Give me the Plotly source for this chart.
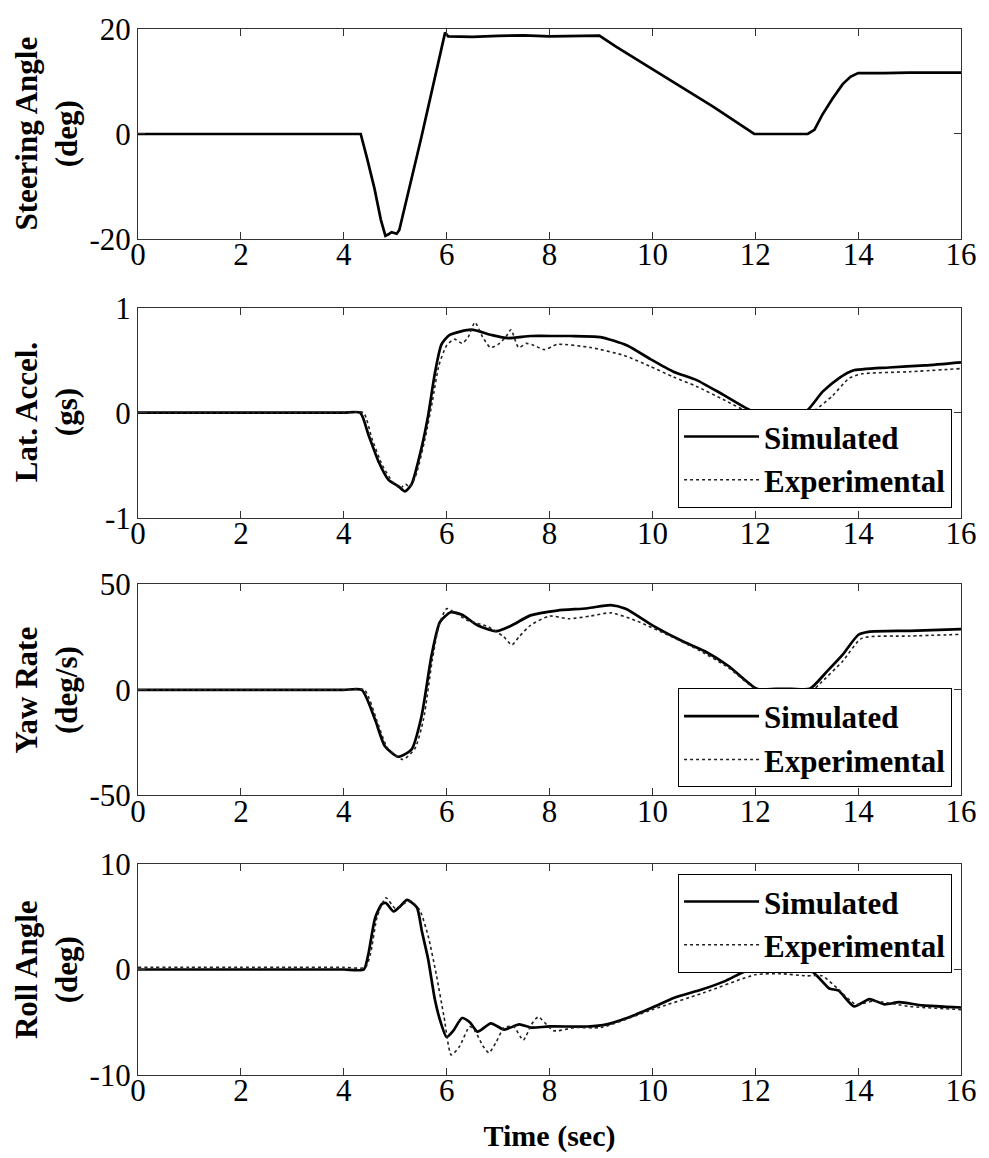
import plotly.graph_objects as go

# ---- time histories ----
steer_t = [0, 4.33, 4.45, 4.6, 4.72, 4.81, 4.87, 4.93, 5.03, 5.08, 5.5, 5.97, 6.03, 6.5, 7.0, 7.5,
           8.0, 8.5, 8.97, 9.3, 10.0, 10.6, 11.18, 11.98, 13.02, 13.15, 13.3, 13.5, 13.7, 13.85,
           14.0, 14.5, 15.0, 16.0]
steer_sim = [0, 0, -4.5, -10.5, -16.3, -19.4, -19.1, -18.7, -19.0, -18.3, -1.0, 19.3, 18.6, 18.5,
             18.7, 18.8, 18.6, 18.7, 18.75, 16.6, 12.4, 8.8, 5.2, 0, 0, 0.8, 3.6, 6.7, 9.5, 10.9,
             11.6, 11.6, 11.7, 11.7]

lat_t_sim = [0, 1, 2, 3, 4, 4.32, 4.48, 4.68, 4.87, 5.06, 5.19, 5.32, 5.51, 5.64, 5.77, 5.90,
             6.06, 6.48, 6.87, 7.19, 7.64, 8.15, 8.41, 8.99, 9.51, 9.96, 10.41, 10.86, 11.38,
             11.95, 12.3, 12.7, 12.99, 13.31, 13.63, 13.89, 14.6, 15.3, 16.0]
lat_sim = [0, 0, 0, 0, 0, 0, -0.21, -0.47, -0.64, -0.70, -0.75, -0.68, -0.34, -0.03, 0.37, 0.65,
           0.74, 0.79, 0.74, 0.71, 0.73, 0.73, 0.73, 0.72, 0.64, 0.51, 0.39, 0.31, 0.17,
           0.015, 0.015, 0.015, 0.015, 0.20, 0.33, 0.40, 0.43, 0.45, 0.48]
lat_t_exp = [0, 1, 2, 3, 4, 4.38, 4.55, 4.75, 4.95, 5.1, 5.2, 5.28, 5.4, 5.58, 5.72, 5.85, 6.0,
             6.15, 6.3, 6.42, 6.55, 6.7, 6.85, 7.0, 7.15, 7.25, 7.4, 7.55, 7.7, 7.9, 8.15, 8.8,
             9.45, 9.96, 10.41, 10.86, 11.38, 11.95, 12.3, 12.7, 13.05, 13.18, 13.5, 13.83,
             14.08, 15.0, 16.0]
lat_exp = [0, 0, 0, 0, 0, 0, -0.25, -0.50, -0.66, -0.72, -0.68, -0.71, -0.60, -0.25, 0.10, 0.45,
           0.64, 0.70, 0.66, 0.72, 0.86, 0.72, 0.62, 0.65, 0.72, 0.79, 0.62, 0.66, 0.64, 0.60,
           0.65, 0.62, 0.545, 0.44, 0.34, 0.25, 0.125, -0.01, -0.01, -0.01, -0.01, 0.03, 0.16,
           0.33, 0.37, 0.39, 0.42]

yaw_t_sim = [0, 1, 2, 3, 4, 4.35, 4.61, 4.8, 5.06, 5.32, 5.51, 5.71, 5.87, 6.08, 6.30, 6.6,
             6.97, 7.27, 7.63, 8.15, 8.74, 9.19, 9.48, 10.0, 10.6, 11.03, 11.48, 12.03, 12.4,
             12.7, 13.06, 13.4, 13.7, 14.0, 14.2, 15.0, 16.0]
yaw_sim = [0, 0, 0, 0, 0, 0, -14.2, -26.7, -31.7, -28.2, -12.8, 16.7, 32.2, 36.8, 35.6, 30.6,
           27.8, 30.6, 35.3, 37.6, 38.7, 40.2, 38.4, 30.6, 22.9, 18.2, 11.3, 0.5, 0.5, 0.5, 0.5,
           8.9, 16.7, 26.0, 27.5, 28.0, 28.8]
yaw_t_exp = [0, 1, 2, 3, 4, 4.4, 4.65, 4.85, 5.15, 5.38, 5.55, 5.72, 5.85, 6.0, 6.2, 6.4, 6.8,
             7.11, 7.27, 7.41, 7.63, 8.0, 8.37, 8.8, 9.19, 9.7, 10.3, 10.89, 11.48, 12.06, 12.4,
             12.75, 13.1, 13.26, 13.7, 14.07, 15.0, 16.0]
yaw_exp = [0, 0, 0, 0, 0, 0, -15.0, -27.5, -33.0, -28.0, -14.0, 14.0, 30.5, 38.5, 36.0, 33.0,
           30.0, 25.2, 21.3, 25.2, 30.6, 35.0, 33.7, 35.0, 36.5, 32.6, 26.0, 19.0, 10.5, -0.4,
           -0.4, -0.4, -0.4, 3.0, 13.6, 24.4, 25.5, 26.3]

roll_t_sim = [0, 1, 2, 3, 4, 4.39, 4.48, 4.61, 4.74, 4.82, 4.97, 5.1, 5.23, 5.42, 5.52, 5.64,
              5.77, 5.86, 6.0, 6.13, 6.3, 6.45, 6.6, 6.86, 7.12, 7.41, 7.64, 8.0, 8.74, 9.11,
              9.56, 10.0, 10.44, 10.96, 11.41, 11.7, 12.03, 12.27, 12.59, 13.03, 13.25, 13.44,
              13.62, 13.92, 14.22, 14.51, 14.8, 15.25, 16.0]
roll_sim = [0, 0, 0, 0, 0, 0, 1.5, 4.9, 6.2, 6.3, 5.5, 6.0, 6.6, 5.9, 3.6, 1.0, -2.8, -4.6,
            -6.4, -5.8, -4.6, -5.0, -5.9, -5.1, -5.7, -5.2, -5.5, -5.4, -5.4, -5.2, -4.5, -3.6,
            -2.65, -1.9, -1.1, -0.4, 0.23, 0.0, 0.1, 0.1, -0.85, -1.8, -2.0, -3.5, -2.8, -3.3,
            -3.1, -3.4, -3.6]
roll_t_exp = [0, 1, 2, 3, 4, 4.42, 4.52, 4.65, 4.82, 5.0, 5.15, 5.3, 5.48, 5.64, 5.8, 5.95,
              6.09, 6.25, 6.45, 6.56, 6.7, 6.82, 6.95, 7.12, 7.3, 7.49, 7.65, 7.78, 8.08, 8.5,
              9.0, 10.0, 11.0, 12.0, 12.5, 13.0, 13.3, 13.6, 13.95, 14.3, 15.0, 16.0]
roll_exp = [0.2, 0.2, 0.2, 0.2, 0.2, 0.2, 1.5, 5.0, 6.8, 5.8, 6.2, 6.5, 5.6, 3.2, -0.5, -4.5,
            -8.1, -7.3, -5.4, -5.9, -7.2, -7.9, -7.0, -5.5, -5.4, -6.7, -5.2, -4.5, -5.8, -5.5,
            -5.5, -3.8, -2.2, -0.5, -0.4, -0.6, -0.6, -1.8, -3.3, -3.0, -3.5, -3.8]

# ---- axis labels / ticks ----
x_ticks = list(range(0, 17, 2))
panel_titles = ["Steering Angle<br>(deg)", "Lat. Accel.<br>(gs)",
                "Yaw Rate<br>(deg/s)", "Roll Angle<br>(deg)"]
y_tickvals = [[-20, 0, 20], [-1, 0, 1], [-50, 0, 50], [-10, 0, 10]]
y_ticktext = [["-20", "0", "20"], ["-1", "0", "1"], ["-50", "0", "50"], ["-10", "0", "10"]]
x_title = "Time (sec)"
names = ["Simulated", "Experimental"]

W, H = 989, 1158
ML, MR, MT, MB = 138, 23, 19, 73
PH = H - MT - MB
PW = W - ML - MR


def fy(px):
    return (H - MB - px) / PH


def fx(px):
    return (px - ML) / PW


panel_px = [(19, 233), (303, 517), (585, 800), (870, 1085)]
serif = "Times New Roman, Liberation Serif, Tinos, serif"

fig = go.Figure()

sim_style = dict(color="black", width=2.7)
sim_smooth = dict(sim_style, shape="spline", smoothing=0.6)
exp_style = dict(color="#222222", width=1.6, dash="dot", shape="spline", smoothing=0.6)

fig.add_trace(go.Scatter(x=steer_t, y=steer_sim, mode="lines", line=sim_style,
                         showlegend=False, xaxis="x", yaxis="y"))

series = [
    (lat_t_sim, lat_sim, lat_t_exp, lat_exp),
    (yaw_t_sim, yaw_sim, yaw_t_exp, yaw_exp),
    (roll_t_sim, roll_sim, roll_t_exp, roll_exp),
]
legend_ids = ["legend", "legend2", "legend3"]
for i, (ts, vs, te, ve) in enumerate(series):
    k = i + 2
    fig.add_trace(go.Scatter(x=ts, y=vs, mode="lines", line=sim_smooth, name=names[0],
                             xaxis=f"x{k}", yaxis=f"y{k}", legend=legend_ids[i]))
    fig.add_trace(go.Scatter(x=te, y=ve, mode="lines", line=exp_style, name=names[1],
                             xaxis=f"x{k}", yaxis=f"y{k}", legend=legend_ids[i]))

axis_common = dict(showgrid=False, zeroline=False, showline=True, linecolor="#333333",
                   linewidth=1, mirror="allticks", ticks="inside", ticklen=7,
                   tickcolor="#333333", tickwidth=1,
                   tickfont=dict(family=serif, size=31, color="black"))

layout = dict(width=W, height=H, margin=dict(l=ML, r=MR, t=MT, b=MB),
              plot_bgcolor="white", paper_bgcolor="white", showlegend=True)
annotations = []
for i in range(4):
    k = "" if i == 0 else str(i + 1)
    top, bot = panel_px[i]
    dom = [fy(bot), fy(top)]
    yr = [y_tickvals[i][0], y_tickvals[i][-1]]
    layout[f"xaxis{k}"] = dict(axis_common, domain=[0, 1], range=[0, 16], tickvals=x_ticks,
                                anchor=f"y{k}", ticklabelstandoff=-12)
    layout[f"yaxis{k}"] = dict(axis_common, domain=dom, range=yr, tickvals=y_tickvals[i],
                                ticktext=y_ticktext[i], anchor=f"x{k}", ticklabelstandoff=0)
    annotations.append(dict(text=panel_titles[i], xref="paper", yref="paper",
                            x=fx(46), y=(dom[0] + dom[1]) / 2, textangle=-90,
                            showarrow=False, xanchor="center", yanchor="middle",
                            font=dict(family=serif, size=31, color="black", weight="bold")))

layout["xaxis4"]["title"] = dict(text=x_title, standoff=17,
                                 font=dict(family=serif, size=30, color="black", weight="bold"))

legend_common = dict(bgcolor="white", bordercolor="black", borderwidth=1, xanchor="right",
                     x=fx(957), font=dict(family=serif, size=31, color="black", weight="bold"),
                     tracegroupgap=0, itemwidth=75)
layout["legend"] = dict(legend_common, y=fy(507), yanchor="bottom")
layout["legend2"] = dict(legend_common, y=fy(792), yanchor="bottom")
layout["legend3"] = dict(legend_common, y=fy(880), yanchor="top")
layout["annotations"] = annotations

fig.update_layout(**layout)
fig.write_html("out.html")
